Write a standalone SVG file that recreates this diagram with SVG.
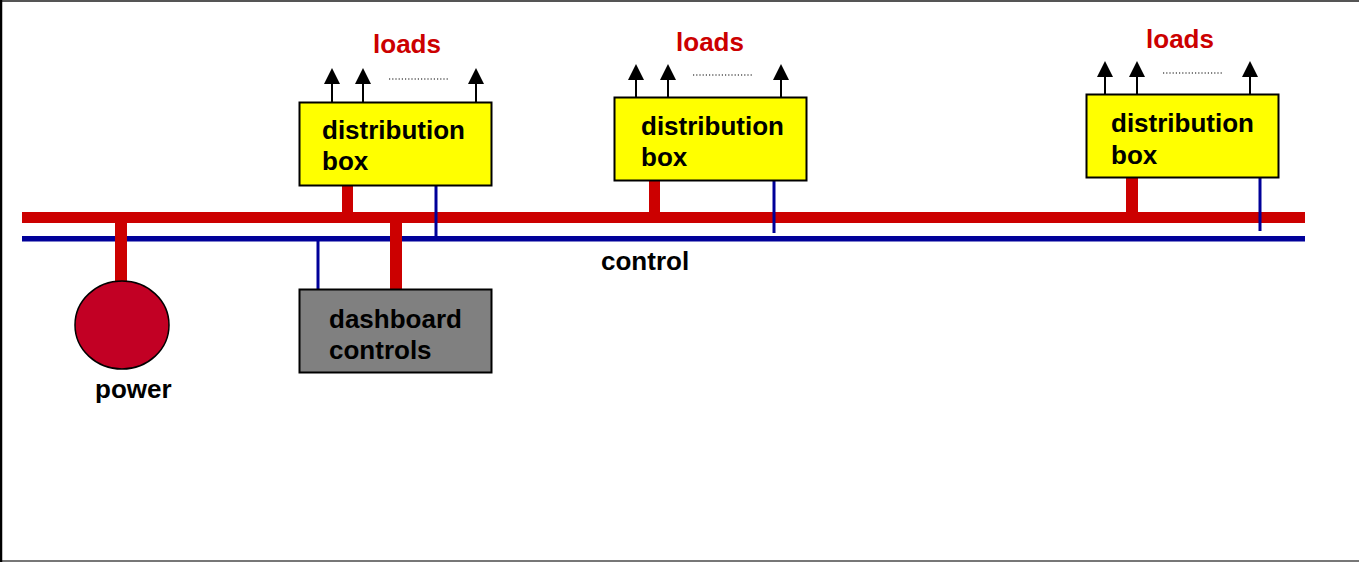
<svg xmlns="http://www.w3.org/2000/svg" width="1359" height="562" viewBox="0 0 1359 562">
<style>
text{font-family:"Liberation Sans",Arial,Helvetica,sans-serif;font-weight:bold;font-size:26px;fill:#000}
.loads{fill:#CC0000;text-anchor:middle}
.dbox{fill:#FFFF00;stroke:#000;stroke-width:2}
.pw{fill:#CC0000}
.ct{stroke:#000099;stroke-width:3;fill:none}
.ld{stroke:#000;stroke-width:2;fill:none;marker-end:url(#ah)}
.dots{stroke:#000;stroke-width:1.2;stroke-dasharray:1.2 2;fill:none}
</style>
<defs>
<marker id="ah" markerUnits="userSpaceOnUse" markerWidth="16" markerHeight="16" viewBox="0 0 16 16" refX="0" refY="8" orient="auto">
<path d="M0,0 L16,8 L0,16 z" fill="#000"/>
</marker>
</defs>
<rect x="1" y="1" width="1370" height="559.5" fill="#fff" stroke="none"/>
<line x1="0" y1="1" x2="1359" y2="1" stroke="#555" stroke-width="2"/>
<line x1="0" y1="561" x2="1359" y2="561" stroke="#777" stroke-width="2"/>
<line x1="1" y1="0" x2="1" y2="562" stroke="#000" stroke-width="2.5"/>

<g id="connectors">
<rect class="pw" x="22" y="212" width="1283" height="11"/>
<rect x="22" y="236" width="1283" height="5.5" fill="#000099"/>
<rect class="pw" x="115" y="222" width="12" height="60"/>
<rect class="pw" x="390" y="222" width="12" height="68"/>
<line class="ct" x1="318" y1="240" x2="318" y2="289"/>
<rect class="pw" x="342" y="185" width="11" height="28"/>
<line class="ct" x1="436" y1="185" x2="436" y2="237"/>
<rect class="pw" x="649" y="180" width="11" height="33"/>
<line class="ct" x1="774" y1="180" x2="774" y2="233"/>
<rect class="pw" x="1126" y="177" width="12" height="36"/>
<line class="ct" x1="1260" y1="177" x2="1260" y2="231"/>

<line class="ld" x1="332" y1="102" x2="332" y2="84"/>
<line class="ld" x1="363" y1="102" x2="363" y2="84"/>
<line class="ld" x1="476" y1="102" x2="476" y2="84"/>
<line class="ld" x1="636" y1="100" x2="636" y2="80"/>
<line class="ld" x1="668" y1="97" x2="668" y2="80"/>
<line class="ld" x1="781" y1="97" x2="781" y2="80"/>
<line class="ld" x1="1105" y1="97" x2="1105" y2="77"/>
<line class="ld" x1="1137" y1="94" x2="1137" y2="77"/>
<line class="ld" x1="1250" y1="94" x2="1250" y2="77"/>
<line class="dots" x1="389" y1="79" x2="448" y2="79"/>
<line class="dots" x1="693" y1="75" x2="752" y2="75"/>
<line class="dots" x1="1163" y1="73" x2="1222" y2="73"/>
</g>

<g id="power">
<ellipse cx="122" cy="325" rx="47" ry="44" fill="#C20024" stroke="#000" stroke-width="1.5"/>
<text x="95" y="398">power</text>
</g>

<g id="dashboard">
<rect x="299.5" y="289.5" width="192" height="83" fill="#808080" stroke="#000" stroke-width="2"/>
<text x="329" y="328">dashboard</text>
<text x="329" y="359">controls</text>
</g>

<g id="box1">
<rect class="dbox" x="299.5" y="102.5" width="192" height="83"/>
<text x="322" y="139">distribution</text>
<text x="322" y="170">box</text>
<text class="loads" x="407" y="53">loads</text>
</g>

<g id="box2">
<rect class="dbox" x="614.5" y="97.5" width="192" height="83"/>
<text x="641" y="135">distribution</text>
<text x="641" y="166">box</text>
<text class="loads" x="710" y="51">loads</text>
</g>

<g id="box3">
<rect class="dbox" x="1086.5" y="94.5" width="192" height="83"/>
<text x="1111" y="132">distribution</text>
<text x="1111" y="164">box</text>
<text class="loads" x="1180" y="48">loads</text>
</g>

<g id="control">
<text x="601" y="270">control</text>
</g>
</svg>
